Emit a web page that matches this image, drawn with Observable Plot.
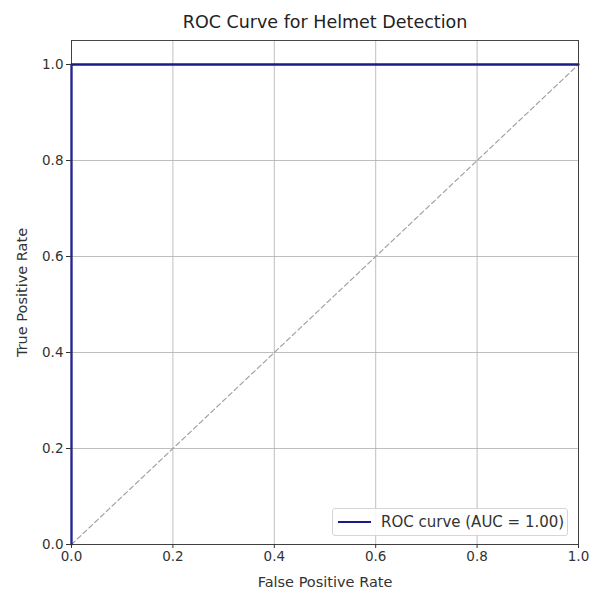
<!DOCTYPE html>
<html><head><meta charset="utf-8">
<script src="https://cdn.jsdelivr.net/npm/d3@7"></script>
<script src="https://cdn.jsdelivr.net/npm/@observablehq/plot@0.6"></script>
<style>
body{margin:0;background:#fff;}
#wrap{position:relative;width:591px;height:593px;font-family:"DejaVu Sans",sans-serif;}
#legend{position:absolute;left:332px;top:508px;width:236px;height:28px;border:1px solid #d6d6d6;border-radius:3px;background:rgba(255,255,255,0.85);box-sizing:border-box;font-size:15px;color:#333;}
#legend .sw{position:absolute;left:5px;top:12px;width:33px;height:2.2px;background:#1a1a8c;}
#legend .tx{position:absolute;left:48px;top:4px;white-space:nowrap;}
</style>
</head><body>
<div id="wrap"></div>
<script>
const fpr = [0, 0, 1];
const tpr = [0, 1, 1];
const diagX = [0, 1];
const diagY = [0, 1];
const ticks = [0, 0.2, 0.4, 0.6, 0.8, 1.0];
const title = "ROC Curve for Helmet Detection";
const xLabel = "False Positive Rate";
const yLabel = "True Positive Rate";
const legendLabel = "ROC curve (AUC = 1.00)";

const roc = fpr.map((x, i) => ({x, y: tpr[i]}));
const diag = diagX.map((x, i) => ({x, y: diagY[i]}));

const chart = Plot.plot({
  width: 591, height: 593,
  marginLeft: 71, marginRight: 13, marginTop: 40, marginBottom: 49,
  style: {fontFamily: "DejaVu Sans, sans-serif", fontSize: "14px", color: "#333", background: "#fff"},
  x: {domain: [0, 1], ticks: ticks, tickFormat: d3.format(".1f"), label: null},
  y: {domain: [0, 1.05], ticks: ticks, tickFormat: d3.format(".1f"), label: null},
  marks: [
    Plot.gridX(ticks, {stroke: "#b0b0b0", strokeOpacity: 0.9, strokeWidth: 0.9}),
    Plot.gridY(ticks, {stroke: "#b0b0b0", strokeOpacity: 0.9, strokeWidth: 0.9}),
    Plot.line(diag, {x: "x", y: "y", stroke: "#a0a0a0", strokeWidth: 1.1, strokeDasharray: "5,3"}),
    Plot.line(roc, {x: "x", y: "y", stroke: "#1a1a8c", strokeWidth: 2.3}),
    Plot.frame({stroke: "#333", strokeWidth: 0.9}),
    Plot.axisX({ticks: ticks, tickFormat: d3.format(".1f"), tickSize: 4, tickPadding: 3, stroke: "#333", fill: "#333", fontSize: 13.5, label: null}),
    Plot.axisY({ticks: ticks, tickFormat: d3.format(".1f"), tickSize: 5, tickPadding: 3, stroke: "#333", fill: "#333", fontSize: 13.5, label: null}),
    Plot.text([title], {frameAnchor: "top", lineAnchor: "middle", dy: -18, fontSize: 17.5, fill: "#222"}),
    Plot.text([xLabel], {frameAnchor: "bottom", lineAnchor: "middle", dy: 38, fontSize: 14.5, fill: "#333"}),
    Plot.text([yLabel], {frameAnchor: "left", lineAnchor: "middle", dx: -49, rotate: -90, textAnchor: "middle", fontSize: 14.5, fill: "#333"})
  ]
});
const wrap = document.getElementById("wrap");
wrap.appendChild(chart);
const lg = document.createElement("div");
lg.id = "legend";
lg.innerHTML = '<div class="sw"></div><div class="tx"></div>';
lg.querySelector(".tx").textContent = legendLabel;
wrap.appendChild(lg);
</script>
</body></html>
